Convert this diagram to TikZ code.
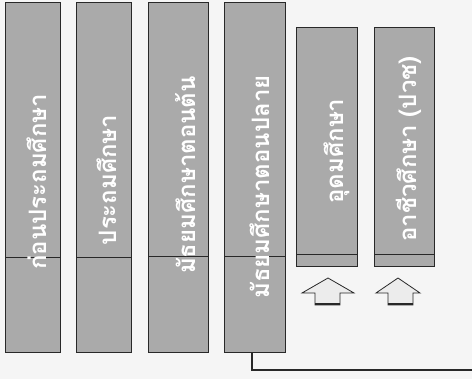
\documentclass[tikz,border=0pt]{standalone}
\usepackage{fontspec}
\newfontfamily\thaifont[Script=Thai]{Loma}
\definecolor{barfill}{RGB}{170,170,170}
\definecolor{barline}{RGB}{40,40,40}
\definecolor{arrowfill}{RGB}{236,236,236}
\begin{document}
\begin{tikzpicture}[x=1pt,y=-1pt,
  bar/.style={draw=barline,line width=1pt,fill=barfill,anchor=north west,inner sep=0pt,outer sep=0pt},
  bartext/.style={rotate=90,text=white,font=\thaifont\bfseries\fontsize{24}{26}\selectfont,inner sep=0pt},
  divider/.style={draw=barline,line width=1pt},
  link/.style={draw=barline,line width=2pt},
  uparrow/.style={draw=barline,line width=0.8pt,fill=arrowfill},
  arrowbase/.style={draw=barline,line width=2.5pt}]
\fill[white!96!black] (0,0) rectangle (472,379);
\useasboundingbox (0,0) rectangle (472,379);
% bars
\node[bar,minimum width=55pt,minimum height=350pt] (b1) at (5,3) {};
\node[bar,minimum width=55pt,minimum height=350pt] (b2) at (76,3) {};
\node[bar,minimum width=60pt,minimum height=350pt] (b3) at (148,3) {};
\node[bar,minimum width=61pt,minimum height=350pt] (b4) at (224,3) {};
\node[bar,minimum width=61pt,minimum height=239pt] (b5) at (296,28) {};
\node[bar,minimum width=60pt,minimum height=239pt] (b6) at (374,28) {};
% dividers
\draw[divider] (b1.west |- 0,258) -- (b1.east |- 0,258);
\draw[divider] (b2.west |- 0,258) -- (b2.east |- 0,258);
\draw[divider] (b3.west |- 0,257) -- (b3.east |- 0,257);
\draw[divider] (b4.west |- 0,257) -- (b4.east |- 0,257);
\draw[divider] (b5.west |- 0,255) -- (b5.east |- 0,255);
\draw[divider] (b6.west |- 0,255) -- (b6.east |- 0,255);
% texts
\node[bartext] (t1) at (37,182) {ก่อนประถมศึกษา};
\node[bartext] (t2) at (107,180) {ประถมศึกษา};
\node[bartext] (t3) at (186,175) {มัธยมศึกษาตอนต้น};
\node[bartext] (t4) at (260,187) {มัธยมศึกษาตอนปลาย};
\node[bartext] (t5) at (337,151) {อุดมศึกษา};
\node[bartext] (t6) at (409,149) {อาชีวศึกษา (ปวช)};
% up arrows
\draw[uparrow] (328,278) -- (354,293) -- (340,293) -- (340,305) -- (315,305) -- (315,293) -- (302,293) -- cycle;
\draw[arrowbase] (315,304) -- (340,304);
\draw[uparrow] (398,278) -- (420,293) -- (413,293) -- (413,305) -- (388,305) -- (388,293) -- (376,293) -- cycle;
\draw[arrowbase] (388,304) -- (413,304);
% connector
\coordinate (end) at (472,370);
\draw[link] (b4.south -| 252,0) |- (end);
\end{tikzpicture}
\end{document}
